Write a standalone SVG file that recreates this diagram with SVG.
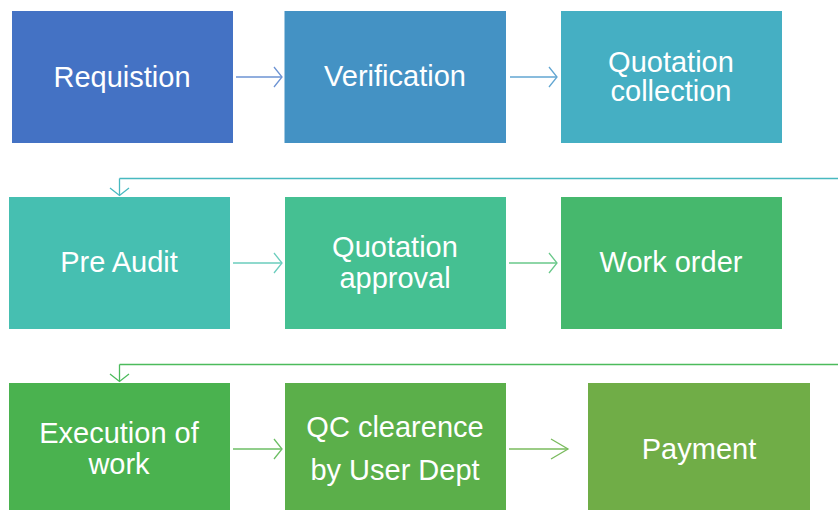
<svg xmlns="http://www.w3.org/2000/svg" width="838" height="510" viewBox="0 0 838 510">
<style>
text{font-family:"Liberation Sans",Arial,sans-serif;font-size:29px;fill:#ffffff;text-anchor:middle}
.c{fill:none;stroke-width:1.3}
</style>
<rect width="838" height="510" fill="#ffffff"/>
<g id="connectors">
<g stroke="#6C93D3" class="c"><line x1="236" y1="77" x2="282" y2="77"/><polyline points="274,67 282,77 274,87"/></g>
<g stroke="#62A6D2" class="c"><line x1="510" y1="77" x2="557" y2="77"/><polyline points="549,67 557,77 549,87"/></g>
<g stroke="#48B9C0" class="c"><line x1="838" y1="178.5" x2="119.5" y2="178.5"/><line x1="119.5" y1="178.5" x2="119.5" y2="195"/><polyline points="110,188 119.5,195.5 129,188"/></g>
<g stroke="#6ACDBD" class="c"><line x1="233" y1="263" x2="282" y2="263"/><polyline points="274,253 282,263 274,273"/></g>
<g stroke="#69C88A" class="c"><line x1="509" y1="263" x2="557" y2="263"/><polyline points="549,253 557,263 549,273"/></g>
<g stroke="#4CBB5C" class="c"><line x1="838" y1="364.5" x2="119.5" y2="364.5"/><line x1="119.5" y1="364.5" x2="119.5" y2="381"/><polyline points="110,374 119.5,381.5 129,374"/></g>
<g stroke="#6CBE64" class="c"><line x1="233" y1="449" x2="282" y2="449"/><polyline points="274,439 282,449 274,459"/></g>
<g stroke="#7ABB5E" class="c"><line x1="509" y1="449" x2="568" y2="449"/><polyline points="551,439 568,449 551,459"/></g>
</g>
<g id="n1"><rect x="12" y="11" width="221" height="132" fill="#4472C4"/><text x="122" y="87">Requistion</text></g>
<g id="n2"><rect x="284.5" y="11" width="221.5" height="132" fill="#4492C4"/><text x="395" y="86">Verification</text></g>
<g id="n3"><rect x="561" y="11" width="221" height="132" fill="#45AFC3"/><text x="671" y="72">Quotation</text><text x="671" y="101">collection</text></g>
<g id="n4"><rect x="9" y="197" width="221" height="132" fill="#46BFB1"/><text x="119" y="272">Pre Audit</text></g>
<g id="n5"><rect x="285" y="197" width="221" height="132" fill="#45C092"/><text x="395" y="257">Quotation</text><text x="395" y="288">approval</text></g>
<g id="n6"><rect x="561" y="197" width="221" height="132" fill="#46B86D"/><text x="671" y="272">Work order</text></g>
<g id="n7"><rect x="9" y="383" width="221" height="132" fill="#4AB24F"/><text x="119" y="443">Execution of</text><text x="119" y="474">work</text></g>
<g id="n8"><rect x="285" y="383" width="221" height="132" fill="#5BAF4A"/><text x="395" y="437">QC clearence</text><text x="395" y="480">by User Dept</text></g>
<g id="n9"><rect x="588" y="383" width="222" height="132" fill="#70AD47"/><text x="699" y="459">Payment</text></g>
</svg>
